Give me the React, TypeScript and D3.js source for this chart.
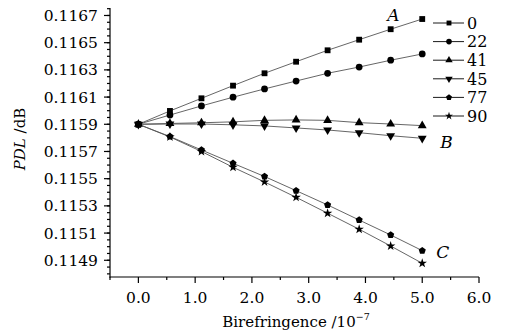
import React from "react";
import * as d3 from "d3";

const birefringence = [0, 0.556, 1.111, 1.667, 2.222, 2.778, 3.333, 3.889, 4.444, 5.0];
const seriesNames = ["0", "22", "41", "45", "77", "90"];
const pdl0 = [0.1159, 0.115998, 0.116091, 0.116184, 0.116275, 0.11636, 0.116444, 0.116522, 0.116599, 0.116674];
const pdl22 = [0.1159, 0.115968, 0.116035, 0.116099, 0.11616, 0.116218, 0.116275, 0.116321, 0.116371, 0.116417];
const pdl41 = [0.1159, 0.115906, 0.115911, 0.115918, 0.115929, 0.115932, 0.115929, 0.115912, 0.115902, 0.11589];
const pdl45 = [0.1159, 0.115902, 0.115902, 0.115896, 0.115888, 0.115873, 0.115858, 0.115838, 0.115816, 0.115797];
const pdl77 = [0.1159, 0.11581, 0.115711, 0.115613, 0.115516, 0.115412, 0.115307, 0.115196, 0.115086, 0.114971];
const pdl90 = [0.1159, 0.115807, 0.1157, 0.115584, 0.115476, 0.115363, 0.115246, 0.115128, 0.115005, 0.114878];
const seriesValues = [pdl0, pdl22, pdl41, pdl45, pdl77, pdl90];

const xTickValues = [0, 1, 2, 3, 4, 5, 6];
const xMinorTicks = [-0.5, 0.5, 1.5, 2.5, 3.5, 4.5, 5.5];
const yTickValues = [0.1149, 0.1151, 0.1153, 0.1155, 0.1157, 0.1159, 0.1161, 0.1163, 0.1165, 0.1167];
const yMinorTicks = d3.range(0, 40).map((i) => 0.1148 + i * 0.00005);
const curveLabels = [
  { text: "A", series: 0 },
  { text: "B", series: 3 },
  { text: "C", series: 4 },
];

const W = 507;
const H = 332;
const FONT = "'DejaVu Serif', serif";

const pentagon = {
  draw(ctx: any, size: number) {
    const r = Math.sqrt(size) * 0.62;
    for (let i = 0; i < 5; i++) {
      const a = -Math.PI / 2 + (i * 2 * Math.PI) / 5;
      const x = r * Math.cos(a);
      const y = r * Math.sin(a);
      if (i === 0) ctx.moveTo(x, y);
      else ctx.lineTo(x, y);
    }
    ctx.closePath();
  },
};

const markerDefs = [
  { type: d3.symbolSquare, size: 34, rot: 0 },
  { type: d3.symbolCircle, size: 36, rot: 0 },
  { type: d3.symbolTriangle, size: 34, rot: 0 },
  { type: d3.symbolTriangle, size: 34, rot: 180 },
  { type: pentagon, size: 36, rot: 0 },
  { type: d3.symbolStar, size: 28, rot: 0 },
];

export default function App() {
  const x = d3.scaleLinear().domain([-0.5, 6.0]).range([110, 479]);
  const y = d3.scaleLinear().domain([0.114777, 0.116755]).range([277, 8]);
  const line = d3
    .line<number>()
    .x((_, i) => x(birefringence[i]))
    .y((d) => y(d));

  const legendX = 433;
  const legendY0 = 23;
  const legendDy = 18.6;

  const labelPos = [
    { dx: -35, dy: -4, series: 0 },
    { dx: 18, dy: 4, series: 3 },
    { dx: 14, dy: 1, series: 4 },
  ];

  return (
    <div style={{ position: "absolute", left: 0, top: 0 }}>
      <svg width={W} height={H} style={{ display: "block", background: "#fff" }}>
        {/* axes */}
        <g stroke="#000" strokeWidth={1.2} fill="none">
          <line x1={110} y1={8} x2={110} y2={277.5} />
          <line x1={109.5} y1={277} x2={479} y2={277} />
          {yTickValues.map((v) => (
            <line key={"ym" + v} x1={104} x2={110} y1={y(v)} y2={y(v)} />
          ))}
          {yMinorTicks
            .filter((v) => y(v) > 8 && y(v) < 277)
            .map((v, i) => (
              <line key={"yn" + i} x1={107} x2={110} y1={y(v)} y2={y(v)} />
            ))}
          {xTickValues.map((v) => (
            <line key={"xm" + v} x1={x(v)} x2={x(v)} y1={277} y2={283} />
          ))}
          {xMinorTicks.map((v) => (
            <line key={"xn" + v} x1={x(v)} x2={x(v)} y1={277} y2={280} />
          ))}
        </g>
        <g fontFamily={FONT} fontSize={15.5} fill="#000">
          {yTickValues.map((v) => (
            <text key={"yl" + v} x={98} y={y(v)} dy="0.36em" textAnchor="end">
              {v.toFixed(4)}
            </text>
          ))}
          {xTickValues.map((v) => (
            <text key={"xl" + v} x={x(v)} y={303} textAnchor="middle">
              {v.toFixed(1)}
            </text>
          ))}
          <text x={296} y={327} textAnchor="middle" fontSize={15}>
            Birefringence /10
            <tspan dy={-7} fontSize={9.5}>
              −7
            </tspan>
          </text>
          <text transform="translate(25,139) rotate(-90)" textAnchor="middle" fontSize={15}>
            <tspan fontStyle="italic">PDL</tspan> /dB
          </text>
        </g>
        {/* series lines */}
        <g fill="none" stroke="#555" strokeWidth={0.9}>
          {seriesValues.map((vals, s) => (
            <path key={"l" + s} d={line(vals) || ""} />
          ))}
        </g>
        {/* markers */}
        <g fill="#000">
          {seriesValues.map((vals, s) =>
            vals.map((v, i) => (
              <path
                key={"m" + s + "-" + i}
                transform={`translate(${x(birefringence[i])},${y(v)}) rotate(${markerDefs[s].rot})`}
                d={d3.symbol().type(markerDefs[s].type as any).size(markerDefs[s].size)() || ""}
              />
            ))
          )}
        </g>
        {/* curve labels */}
        <g fontFamily={FONT} fontStyle="italic" fontSize={17} fill="#000">
          {curveLabels.map((c, k) => {
            const vals = seriesValues[c.series];
            const last = vals[vals.length - 1];
            return (
              <text
                key={c.text}
                x={x(birefringence[birefringence.length - 1]) + labelPos[k].dx}
                y={y(last) + labelPos[k].dy}
                dy="0.35em"
              >
                {c.text}
              </text>
            );
          })}
        </g>
        {/* legend */}
        <g>
          {seriesNames.map((name, s) => {
            const ly = legendY0 + s * legendDy;
            return (
              <g key={"lg" + name}>
                <line x1={legendX} x2={legendX + 31} y1={ly} y2={ly} stroke="#000" strokeWidth={0.9} />
                <path
                  transform={`translate(${legendX + 16},${ly}) rotate(${markerDefs[s].rot})`}
                  d={d3.symbol().type(markerDefs[s].type as any).size(markerDefs[s].size * 0.7)() || ""}
                  fill="#000"
                />
                <text x={legendX + 34} y={ly} dy="0.36em" fontFamily={FONT} fontSize={16} fill="#000">
                  {name}
                </text>
              </g>
            );
          })}
        </g>
      </svg>
    </div>
  );
}
